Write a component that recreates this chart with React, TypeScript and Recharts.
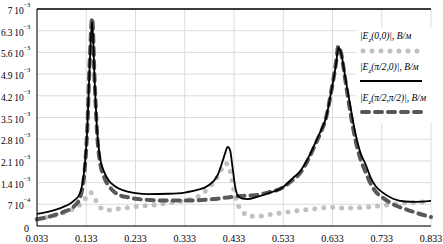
import React from "react";
import {
  LineChart,
  Line,
  XAxis,
  YAxis,
  CartesianGrid,
  ReferenceLine,
} from "recharts";

// frequency points (x axis)
const freqs = [
  0.033, 0.05, 0.07, 0.09, 0.1, 0.11, 0.12, 0.125, 0.13, 0.135, 0.14, 0.145, 0.15, 0.155, 0.16,
  0.17, 0.18, 0.19, 0.2, 0.22, 0.233, 0.26, 0.3, 0.333, 0.36, 0.38, 0.4, 0.41, 0.415, 0.42, 0.425,
  0.43, 0.435, 0.44, 0.45, 0.46, 0.48, 0.5, 0.533, 0.553, 0.567, 0.587, 0.6, 0.61, 0.62, 0.63,
  0.64, 0.645, 0.65, 0.66, 0.67, 0.68, 0.69, 0.7, 0.71, 0.72, 0.733, 0.756, 0.78, 0.8, 0.833,
];

// |Ez(0,0)|, values in 10^-3
const ez00 = [
  0.22, 0.27, 0.35, 0.45, 0.5, 0.58, 0.68, 0.76, 0.86, 0.98, 1.08, 1.05, 0.9, 0.75, 0.62,
  0.53, 0.52, 0.54, 0.56, 0.6, 0.63, 0.66, 0.74, 0.82, 0.95, 1.2, 1.6, 1.9, 2.02, 2.0, 1.8,
  1.4, 1.0, 0.72, 0.5, 0.32, 0.31, 0.36, 0.43, 0.48, 0.5, 0.54, 0.56, 0.58, 0.6, 0.61,
  0.6, 0.59, 0.58, 0.58, 0.58, 0.58, 0.59, 0.6, 0.62, 0.64, 0.66, 0.7, 0.74, 0.76, 0.78,
];

// |Ez(pi/2,0)|
const ezPi0 = [
  0.39, 0.44, 0.52, 0.64, 0.72, 0.84, 1.05, 1.35, 1.95, 3.1, 5.2, 6.6, 4.7, 3.1, 2.3,
  1.72, 1.44, 1.3, 1.2, 1.1, 1.06, 1.03, 1.04, 1.08, 1.17, 1.3, 1.65, 2.1, 2.35, 2.55, 2.45,
  1.9, 1.3, 1.0, 0.88, 0.87, 0.94, 1.04, 1.26, 1.55, 1.76, 2.3, 2.75, 3.1, 3.5, 4.3,
  5.2, 5.75, 5.6, 4.7, 3.8, 2.95, 2.35, 2.0, 1.58, 1.3, 1.1, 0.88, 0.79, 0.78, 0.81,
];

// |Ez(pi/2,pi/2)|
const ezPiPi = [
  0.22, 0.27, 0.36, 0.47, 0.54, 0.66, 0.9, 1.2, 1.85, 3.1, 5.3, 6.7, 4.7, 3.0, 2.15,
  1.55, 1.27, 1.1, 1.0, 0.92, 0.88, 0.84, 0.82, 0.82, 0.83, 0.85, 0.88, 0.9, 0.91, 0.92, 0.93,
  0.94, 0.95, 0.96, 0.97, 0.98, 1.0, 1.07, 1.25, 1.5, 1.7, 2.25, 2.7, 3.05, 3.5, 4.3,
  5.25, 5.8, 5.6, 4.6, 3.6, 2.75, 2.15, 1.75, 1.38, 1.12, 0.94, 0.7, 0.55, 0.44, 0.29,
];

const xTicks = [0.033, 0.133, 0.233, 0.333, 0.433, 0.533, 0.633, 0.733, 0.833];
const yTicks = [0, 0.7, 1.4, 2.1, 2.8, 3.5, 4.2, 4.9, 5.6, 6.3, 7];

const data = freqs.map((f, i) => ({
  f,
  a: ez00[i],
  b: ezPi0[i],
  c: ezPiPi[i],
}));

const FONT = "Liberation Serif, DejaVu Serif, serif";

function YTick({ x, y, payload }: any) {
  const v = payload.value as number;
  if (v === 0) {
    return (
      <text x={x} y={y + 6} textAnchor="end" fontSize={10} fontFamily={FONT} fill="#000">
        0
      </text>
    );
  }
  const small = v < 1;
  const mant = small ? "7" : v === 7 ? "7" : v.toFixed(1);
  const exp = small ? "\u22124" : "\u22123";
  return (
    <text x={x + 1} y={y + 5} textAnchor="end" fontSize={9.5} fontFamily={FONT} fill="#000" letterSpacing={-0.2}>
      <tspan>{mant} 10</tspan>
      <tspan dy={-7} fontSize={6.5}>
        {exp}
      </tspan>
    </text>
  );
}

function XTick({ x, y, payload }: any) {
  return (
    <text x={x} y={y + 7.5} textAnchor="middle" fontSize={10} fontFamily={FONT} fill="#000">
      {payload.value.toFixed(3)}
    </text>
  );
}

function Label({ arg }: { arg: string }) {
  return (
    <span style={{ fontStyle: "italic" }}>
      |E<sub style={{ fontSize: 7 }}>z</sub>({arg})|, В/м
    </span>
  );
}

function LegendBox() {
  const item = { height: 31, lineHeight: "12px" };
  return (
    <div
      style={{
        position: "absolute",
        left: 356,
        top: 28,
        background: "#fff",
        width: 72,
        fontFamily: FONT,
        fontSize: 9.5,
        color: "#000",
        padding: "2px 0 0 4px",
      }}
    >
      <div style={item}>
        <Label arg="0,0" />
        <svg width={64} height={12} style={{ display: "block" }}>
          <line x1={3} y1={5} x2={62} y2={5} stroke="#c0c0c0" strokeWidth={5} strokeDasharray="0 9" strokeLinecap="round" />
        </svg>
      </div>
      <div style={item}>
        <Label arg="π/2,0" />
        <svg width={64} height={12} style={{ display: "block" }}>
          <line x1={0} y1={4} x2={62} y2={4} stroke="#000" strokeWidth={2} />
        </svg>
      </div>
      <div style={item}>
        <Label arg="π/2,π/2" />
        <svg width={64} height={12} style={{ display: "block" }}>
          <line x1={2} y1={4} x2={62} y2={4} stroke="#595959" strokeWidth={4} strokeDasharray="7 6" strokeLinecap="round" />
        </svg>
      </div>
    </div>
  );
}

export default function App() {
  return (
    <div style={{ position: "absolute", left: 0, top: 0, width: 443, height: 244, background: "#fff" }}>
      <LineChart width={443} height={244} data={data} margin={{ top: 9, right: 12, left: 0, bottom: 0 }}>
        <CartesianGrid stroke="#dcdcdc" strokeWidth={1} />
        <XAxis
          dataKey="f"
          type="number"
          domain={[0.033, 0.833]}
          ticks={xTicks}
          tick={<XTick />}
          tickLine={false}
          axisLine={{ stroke: "#000", strokeWidth: 1 }}
          height={18}
          interval={0}
        />
        <YAxis
          type="number"
          domain={[0, 7]}
          ticks={yTicks}
          tick={<YTick />}
          tickLine={false}
          axisLine={{ stroke: "#000", strokeWidth: 1 }}
          width={37}
          interval={0}
        />
        <ReferenceLine y={7} stroke="#000" strokeWidth={1.5} />
        <Line
          type="monotone"
          dataKey="a"
          stroke="#c0c0c0"
          strokeWidth={5}
          strokeDasharray="0 9"
          strokeLinecap="round"
          dot={false}
          isAnimationActive={false}
        />
        <Line
          type="monotone"
          dataKey="c"
          stroke="#595959"
          strokeWidth={4}
          strokeDasharray="7 6"
          strokeLinecap="round"
          dot={false}
          isAnimationActive={false}
        />
        <Line
          type="monotone"
          dataKey="b"
          stroke="#000"
          strokeWidth={1.8}
          dot={false}
          isAnimationActive={false}
        />
      </LineChart>
      <LegendBox />
    </div>
  );
}
